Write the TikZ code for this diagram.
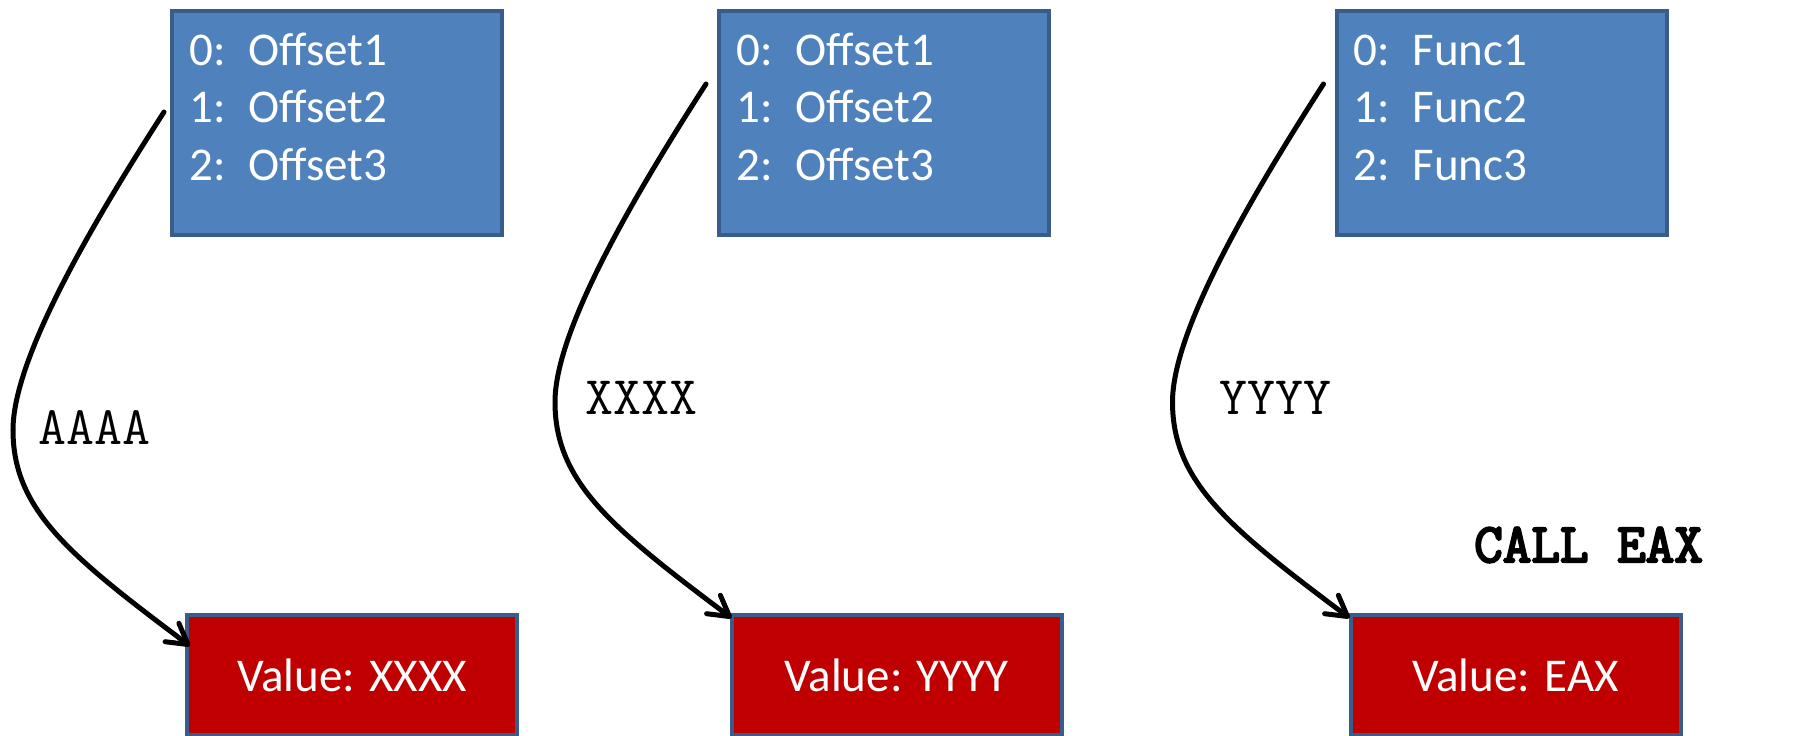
\documentclass[tikz,border=0pt]{standalone}
\usepackage{fontspec}
\setmainfont{Carlito}
\newfontfamily\codeboldfont{Latin Modern Mono}[FakeBold=4]
\usetikzlibrary{arrows.meta,calc}
\definecolor{boxblue}{HTML}{4F81BD}
\definecolor{boxedge}{HTML}{385D8A}
\definecolor{boxred}{HTML}{C00000}
\begin{document}
\begin{tikzpicture}[x=1pt,y=-1pt,
  bluebox/.style={draw=boxedge, fill=boxblue, line width=4pt, minimum width=330pt, minimum height=224pt, inner sep=0pt},
  redbox/.style={draw=boxedge, fill=boxred, line width=4pt, minimum width=330pt, minimum height=120pt, inner sep=0pt, text=white, font=\fontsize{47}{56}\selectfont},
  listtext/.style={anchor=base west, inner sep=0pt, text=white, font=\fontsize{47}{57.5}\selectfont},
  codetext/.style={anchor=base west, inner sep=0pt, font=\fontsize{54.3}{60}\ttfamily},
  codebold/.style={anchor=base west, inner sep=0pt, font=\fontsize{55.5}{60}\codeboldfont},
  link/.style={line width=5pt, line cap=round, -{Straight Barb[length=20pt,width=23pt,line cap=round,line join=round]}},
]
\useasboundingbox (0,0) rectangle (1812,736);
\fill[white] (0,0) rectangle (1812,736);

\node[bluebox] (b1) at (337,123) {};
\node[bluebox] (b2) at (884,123) {};
\node[bluebox] (b3) at (1501.5,123) {};

\node[listtext] (t1) at ($(b1.north west)+(19,56)$) {\begin{tabular}[t]{@{}l@{}}\makebox[59pt][l]{0:}Offset1\\\makebox[59pt][l]{1:}Offset2\\\makebox[59pt][l]{2:}Offset3\end{tabular}};
\node[listtext] (t2) at ($(b2.north west)+(19,56)$) {\begin{tabular}[t]{@{}l@{}}\makebox[59pt][l]{0:}Offset1\\\makebox[59pt][l]{1:}Offset2\\\makebox[59pt][l]{2:}Offset3\end{tabular}};
\node[listtext] (t3) at ($(b3.north west)+(19,56)$) {\begin{tabular}[t]{@{}l@{}}\makebox[59pt][l]{0:}Func1\\\makebox[59pt][l]{1:}Func2\\\makebox[59pt][l]{2:}Func3\end{tabular}};

\node[redbox] (r1) at (352,675) {Value: XXXX};
\node[redbox] (r2) at (896.5,675) {Value: YYYY};
\node[redbox] (r3) at (1515.5,675) {Value: EAX};

\node[codetext] (aaaa) at (38,444) {AAAA};
\node[codetext] (xxxx) at (585,414) {XXXX};
\node[codetext] (yyyy) at (1219,414) {YYYY};
\node[codebold] (call) at (1474,562) {CALL EAX};

\coordinate (s1) at ($(b1.west)+(-6,-11)$);
\coordinate (s2) at ($(b2.west)+(-11,-39)$);
\coordinate (s3) at ($(b3.west)+(-11,-39)$);
\coordinate (m1) at ($(s1)+(-151,318)$);
\coordinate (m2) at ($(s2)+(-151,318)$);
\coordinate (m3) at ($(s3)+(-151,318)$);
\coordinate (e1) at ($(r1.north west)+(5,33)$);
\coordinate (e2) at ($(r2.north west)+(2,5)$);
\coordinate (e3) at ($(r3.north west)+(1,5)$);

\foreach \i in {1,2,3}{
  \draw[link] (s\i) .. controls ($(s\i)+(-76,118)$) and ($(m\i)+(0,-70)$) .. (m\i)
     .. controls ($(m\i)+(0,80)$) and ($(e\i)+(-120,-90)$) .. (e\i);
}
\end{tikzpicture}
\end{document}
